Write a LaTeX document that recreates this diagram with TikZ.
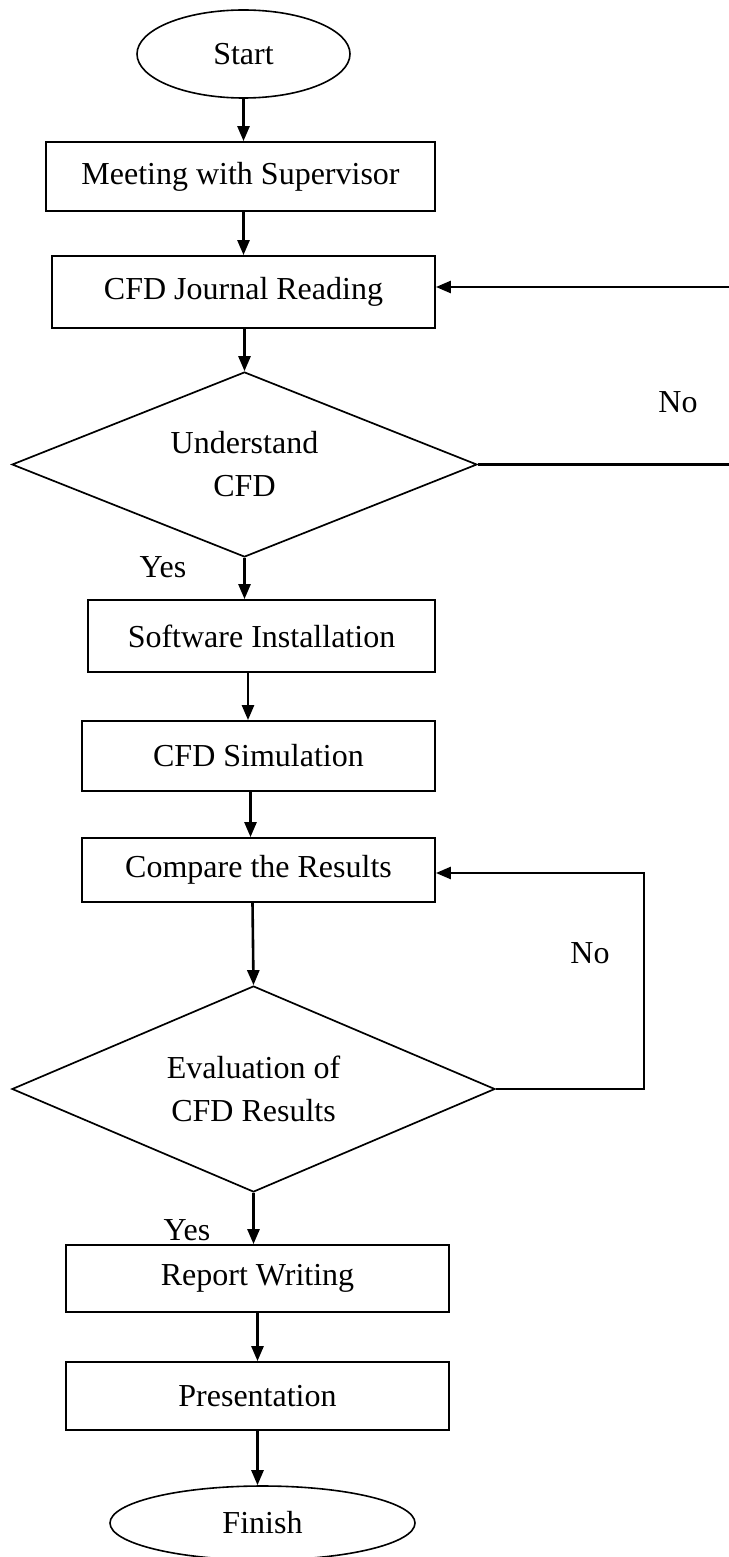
\documentclass[tikz,border=0pt]{standalone}
\usepackage{fontspec}
\setmainfont{Liberation Serif}
\usetikzlibrary{shapes.geometric,arrows.meta,calc}
\begin{document}
\begin{tikzpicture}[x=1pt,y=-1pt,
  every node/.style={font=\fontsize{32}{43}\selectfont, inner sep=0pt},
  procbox/.style={draw, line width=1.8pt, rectangle},
  termin/.style={draw, line width=1.6pt, ellipse},
  decide/.style={draw, line width=1.7pt, diamond, aspect=2.5, align=center},
  arr/.style={line width=2.6pt, -{Triangle[length=15pt,width=12pt]}},
  lbl/.style={}
]
\useasboundingbox (0,0) rectangle (728,1557);
\fill[white] (0,0) rectangle (728,1557);

\node[termin, minimum width=213pt, minimum height=88pt] (start) at (243.5,54) {Start};
\node[procbox, minimum width=389pt, minimum height=69pt] (meet) at (240.5,176.5) {Meeting with Supervisor};
\node[procbox, minimum width=383pt, minimum height=72pt] (journal) at (243.5,292) {CFD Journal Reading};
\node[decide, minimum width=465pt, minimum height=185pt] (d1) at (244.5,464.5) {Understand\\CFD};
\node[lbl] (no1) at (678,402) {No};
\node[lbl] (yes1) at (163,567) {Yes};
\node[procbox, minimum width=347pt, minimum height=72pt] (soft) at (261.5,636) {Software Installation};
\node[procbox, minimum width=353pt, minimum height=70pt] (sim) at (258.5,756) {CFD Simulation};
\node[procbox, minimum width=353pt, minimum height=64pt] (comp) at (258.5,870) {Compare the Results};
\node[decide, minimum width=483pt, minimum height=206pt] (d2) at (253.5,1089) {Evaluation of\\CFD Results};
\node[lbl] (no2) at (590,953) {No};
\node[lbl] (yes2) at (187,1230) {Yes};
\node[procbox, minimum width=383pt, minimum height=67pt] (report) at (257.5,1278.5) {Report Writing};
\node[procbox, minimum width=383pt, minimum height=68pt] (pres) at (257.5,1396) {Presentation};
\node[termin, minimum width=305pt, minimum height=74pt] (finish) at (262.5,1523) {Finish};

\draw[arr] (start.south) -- (start.south |- meet.north);
\draw[arr] (journal.north |- meet.south) -- (journal.north);
\draw[arr] (d1.north |- journal.south) -- (d1.north);
\draw[arr] (d1.south) -- (d1.south |- soft.north);
\draw[arr] ([xshift=-13.5pt]soft.south) -- ([xshift=-10.5pt]sim.north);
\draw[arr] ([xshift=-8pt]sim.south) -- ([xshift=-8pt]comp.north);
\draw[arr] ([xshift=-1pt]d2.north |- comp.south) -- (d2.north);
\draw[arr] (d2.south) -- (d2.south |- report.north);
\draw[arr] (report.south) -- (pres.north);
\draw[arr] (pres.south) -- (pres.south |- finish.north);

\draw[arr] (d1.east) -- ++(262,0) |- ([yshift=5pt]journal.east);
\draw[arr] (d2.east) -- ++(148,0) |- ([yshift=-3pt]comp.east);
\end{tikzpicture}
\end{document}
